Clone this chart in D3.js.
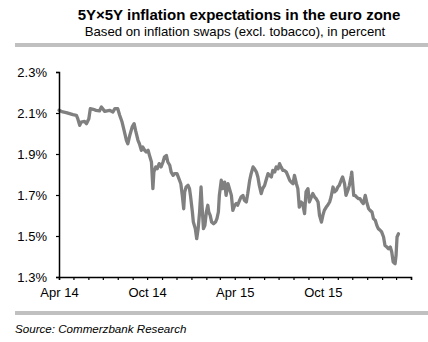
<!DOCTYPE html>
<html>
<head>
<meta charset="utf-8">
<script src="https://cdn.jsdelivr.net/npm/d3@7"></script>
<style>
  html, body { margin: 0; padding: 0; background: #fff; }
  svg { display: block; font-family: "Liberation Sans", Arial, sans-serif; }
</style>
</head>
<body>
<svg id="chart" width="428" height="342"></svg>
<script>
const titleText = "5Y\u00d75Y inflation expectations in the euro zone";
const subtitleText = "Based on inflation swaps (excl. tobacco), in percent";
const sourceText = "Source: Commerzbank Research";

const yTicks = [1.3, 1.5, 1.7, 1.9, 2.1, 2.3];
const xTickLabels = ["Apr 14", "Oct 14", "Apr 15", "Oct 15"];
const xDomain = ["2014-04-01", "2016-04-01"];

const dates = [
"2014-04-01","2014-04-09","2014-04-16","2014-04-23","2014-04-30","2014-05-07","2014-05-10","2014-05-14","2014-05-17","2014-05-24",
"2014-05-28","2014-06-02","2014-06-05","2014-06-11","2014-06-17","2014-06-24","2014-06-28","2014-07-05","2014-07-15","2014-07-22",
"2014-07-26","2014-08-01","2014-08-05","2014-08-10","2014-08-15","2014-08-19","2014-08-22","2014-08-26","2014-08-31","2014-09-04",
"2014-09-07","2014-09-12","2014-09-15","2014-09-19","2014-09-22","2014-09-26","2014-09-29","2014-10-03","2014-10-06","2014-10-10",
"2014-10-13","2014-10-15","2014-10-19","2014-10-22","2014-10-26","2014-10-30","2014-11-03","2014-11-06","2014-11-10","2014-11-13",
"2014-11-17","2014-11-20","2014-11-24","2014-11-27","2014-12-02","2014-12-06","2014-12-10","2014-12-13","2014-12-16","2014-12-18",
"2014-12-21","2014-12-25","2014-12-28","2014-12-30","2015-01-03","2015-01-05","2015-01-09","2015-01-12","2015-01-15","2015-01-18",
"2015-01-21","2015-01-23","2015-01-26","2015-01-29","2015-02-01","2015-02-04","2015-02-06","2015-02-09","2015-02-12","2015-02-16",
"2015-02-20","2015-02-23","2015-02-26","2015-02-28","2015-03-04","2015-03-07","2015-03-11","2015-03-14","2015-03-18","2015-03-21",
"2015-03-25","2015-03-28","2015-04-01","2015-04-04","2015-04-07","2015-04-11","2015-04-14","2015-04-18","2015-04-21","2015-04-25",
"2015-04-28","2015-05-02","2015-05-05","2015-05-09","2015-05-12","2015-05-16","2015-05-19","2015-05-22","2015-05-26","2015-05-29",
"2015-06-02","2015-06-05","2015-06-09","2015-06-12","2015-06-16","2015-06-19","2015-06-23","2015-06-26","2015-06-30","2015-07-03",
"2015-07-06","2015-07-10","2015-07-13","2015-07-17","2015-07-20","2015-07-24","2015-07-27","2015-07-31","2015-08-03","2015-08-07",
"2015-08-10","2015-08-13","2015-08-17","2015-08-20","2015-08-24","2015-08-27","2015-08-31","2015-09-03","2015-09-07","2015-09-10",
"2015-09-14","2015-09-17","2015-09-21","2015-09-24","2015-09-28","2015-10-01","2015-10-04","2015-10-08","2015-10-11","2015-10-15",
"2015-10-18","2015-10-22","2015-10-25","2015-10-29","2015-11-01","2015-11-04","2015-11-08","2015-11-11","2015-11-15","2015-11-18",
"2015-11-22","2015-11-25","2015-11-29","2015-11-30","2015-12-04","2015-12-07","2015-12-10","2015-12-14","2015-12-17","2015-12-21",
"2015-12-24","2015-12-28","2015-12-31","2016-01-04","2016-01-07","2016-01-11","2016-01-14","2016-01-18","2016-01-21","2016-01-24",
"2016-01-28","2016-01-31","2016-02-04","2016-02-07","2016-02-11","2016-02-14","2016-02-18","2016-02-21","2016-02-24","2016-02-28",
"2016-03-01","2016-03-03","2016-03-06"
];

const values = [
2.113,2.105,2.102,2.097,2.092,2.089,2.072,2.040,2.056,2.059,
2.048,2.072,2.121,2.118,2.113,2.110,2.129,2.108,2.113,2.105,
2.121,2.121,2.089,2.056,2.007,1.967,1.950,1.991,2.032,2.048,
2.015,1.967,1.950,1.918,1.934,1.918,1.910,1.918,1.893,1.861,
1.731,1.812,1.837,1.828,1.853,1.837,1.861,1.885,1.893,1.861,
1.845,1.812,1.796,1.804,1.804,1.780,1.755,1.698,1.633,1.715,
1.739,1.747,1.731,1.698,1.617,1.568,1.536,1.487,1.536,1.617,
1.739,1.650,1.536,1.552,1.617,1.650,1.617,1.601,1.568,1.560,
1.568,1.585,1.617,1.698,1.772,1.731,1.763,1.698,1.755,1.731,
1.698,1.625,1.650,1.658,1.650,1.674,1.690,1.698,1.674,1.666,
1.707,1.772,1.804,1.837,1.828,1.812,1.788,1.747,1.707,1.731,
1.747,1.772,1.804,1.796,1.788,1.820,1.812,1.837,1.828,1.853,
1.837,1.820,1.820,1.812,1.796,1.772,1.763,1.755,1.796,1.755,
1.731,1.641,1.666,1.658,1.609,1.715,1.731,1.666,1.690,1.707,
1.690,1.682,1.666,1.601,1.568,1.601,1.625,1.641,1.650,1.666,
1.690,1.739,1.715,1.723,1.739,1.747,1.772,1.788,1.755,1.698,
1.723,1.747,1.796,1.812,1.698,1.698,1.690,1.682,1.682,1.666,
1.658,1.698,1.666,1.633,1.625,1.617,1.585,1.576,1.552,1.536,
1.528,1.520,1.495,1.454,1.446,1.438,1.446,1.422,1.373,1.365,
1.406,1.495,1.511
];

const parse = d3.utcParse("%Y-%m-%d");
const data = dates.map((d, i) => ({ date: parse(d), value: values[i] }));

const svg = d3.select("#chart");

// Title block
svg.append("text").attr("x", 239).attr("y", 20).attr("text-anchor", "middle")
  .attr("font-size", 15).attr("font-weight", "bold").attr("fill", "#000").text(titleText);
svg.append("text").attr("x", 235).attr("y", 36).attr("text-anchor", "middle")
  .attr("font-size", 13.2).attr("fill", "#000").text(subtitleText);
svg.append("rect").attr("x", 15).attr("y", 43).attr("width", 413).attr("height", 4).attr("fill", "#c0c0c0");

// Scales
const x = d3.scaleUtc().domain(xDomain.map(parse)).range([59, 411]);
const y = d3.scaleLinear().domain([1.3, 2.3]).range([277, 72]);

// Line
const line = d3.line().x(d => x(d.date)).y(d => y(d.value)).curve(d3.curveLinear);
svg.append("path").datum(data).attr("d", line)
  .attr("fill", "none").attr("stroke", "#808080").attr("stroke-width", 3.3)
  .attr("stroke-linejoin", "round").attr("stroke-linecap", "round");

// Axes
const fmtY = d => d3.format(".1f")(d) + "%";
const yAxis = svg.append("g").attr("transform", "translate(59,0)")
  .call(d3.axisLeft(y).tickValues(yTicks).tickFormat(fmtY).tickSize(3).tickPadding(9));
const fmtX = d3.utcFormat("%b %y");
const xAxis = svg.append("g").attr("transform", "translate(0,277)")
  .call(d3.axisBottom(x).ticks(d3.utcMonth.every(1)).tickSize(3).tickPadding(5)
    .tickFormat(d => xTickLabels.includes(fmtX(d)) ? fmtX(d) : ""));

[yAxis, xAxis].forEach(g => {
  g.select(".domain").attr("stroke", "#000").attr("stroke-width", 1.5);
  g.selectAll(".tick line").attr("stroke", "#000").attr("stroke-width", 1.2);
  g.selectAll("text").attr("font-size", 13).attr("fill", "#000")
    .attr("font-family", "'Liberation Sans', Arial, sans-serif");
});
xAxis.selectAll("text").attr("dy", "0.95em");

// Footer
svg.append("rect").attr("x", 15).attr("y", 311).attr("width", 413).attr("height", 4).attr("fill", "#c0c0c0");
svg.append("text").attr("x", 15).attr("y", 333).attr("font-size", 11.6).attr("font-style", "italic")
  .attr("fill", "#000").text(sourceText);
</script>
</body>
</html>
